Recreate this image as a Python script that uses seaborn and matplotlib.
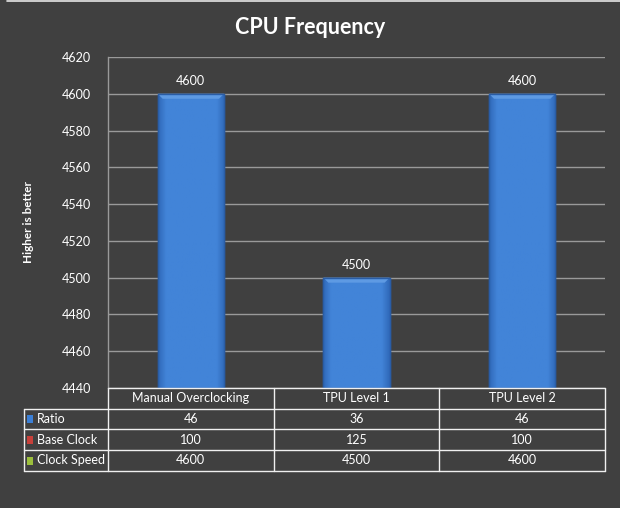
import matplotlib
matplotlib.use("Agg")
import matplotlib.pyplot as plt
import matplotlib.transforms as mtransforms
from matplotlib.lines import Line2D
from matplotlib.patches import Rectangle, Polygon
import numpy as np
import seaborn as sns
import pandas as pd

categories = ["Manual Overclocking", "TPU Level 1", "TPU Level 2"]
clock_speed = [4600, 4500, 4600]
ratio = [46, 36, 46]
base_clock = [100, 125, 100]
row_labels = ["Ratio", "Base Clock", "Clock Speed"]
row_colors = ["#3b7fd6", "#c8403a", "#9cbf3c"]
y_ticks = [4440, 4460, 4480, 4500, 4520, 4540, 4560, 4580, 4600, 4620]

BG = "#404040"
sns.set_theme(style="dark")
plt.rcParams["font.family"] = ["Lato", "DejaVu Sans"]

W, H = 620, 508
fig = plt.figure(figsize=(W / 100, H / 100), dpi=100, facecolor=BG)


def fx(px):
    return px / W


def fy(py):
    return 1 - py / H


ax = fig.add_axes([fx(108), fy(388), fx(605) - fx(108), fy(57) - fy(388)])
ax.set_facecolor(BG)

df = pd.DataFrame({"Config": categories, "Clock Speed": clock_speed})
sns.barplot(data=df, x="Config", y="Clock Speed", ax=ax, color="#3f80d5",
            width=0.4, edgecolor="#2a5da6", linewidth=1, saturation=1)
ax.bar_label(ax.containers[0], labels=[str(v) for v in clock_speed],
             padding=5, color="white", fontsize=9)

ax.set_ylim(y_ticks[0], y_ticks[-1])
ax.set_yticks(y_ticks)
ax.set_xticks([])
ax.set_xlabel("")
ax.set_ylabel("")
ax.yaxis.grid(True, color="#9a9a9a", lw=1)
ax.xaxis.grid(False)
ax.set_axisbelow(True)
for s in ["top", "right", "bottom"]:
    ax.spines[s].set_visible(False)
ax.spines["left"].set_color("#9a9a9a")
ax.spines["left"].set_linewidth(1)
ax.tick_params(axis="y", colors="#9a9a9a", labelcolor="white", length=4,
               width=1, direction="out", labelsize=9, pad=8)

# shading on bars (horizontal gradient + top bevel)
fig.canvas.draw()
ylo = ax.get_ylim()[0]
px_per_y = ax.bbox.height / (ax.get_ylim()[1] - ax.get_ylim()[0])
px_per_x = ax.bbox.width / (ax.get_xlim()[1] - ax.get_xlim()[0])
dark = np.array([0x2f, 0x68, 0xb8]) / 255
mid = np.array([0x42, 0x84, 0xd8]) / 255
t = np.linspace(0, 1, 120)
prof = np.clip(np.minimum(t, 1 - t) / 0.12, 0, 1)[:, None]
grad = (dark * (1 - prof) + mid * prof)[None, :, :]
for p in list(ax.patches):
    x0, w = p.get_x(), p.get_width()
    top = p.get_y() + p.get_height()
    im = ax.imshow(grad, extent=[x0, x0 + w, ylo, top], aspect="auto",
                   zorder=p.get_zorder() + 0.1, interpolation="bilinear")
    im.set_clip_path(p)
    bh = 5 / px_per_y
    bw = 5 / px_per_x
    bevel = Polygon([[x0, top], [x0 + w, top], [x0 + w - bw, top - bh], [x0 + bw, top - bh]],
                    closed=True, facecolor="#5e9ae3", edgecolor="none",
                    zorder=p.get_zorder() + 0.2)
    ax.add_patch(bevel)
    ax.add_patch(Rectangle((x0, ylo), w, top - ylo, facecolor="none",
                           edgecolor="#2a5da6", lw=1, zorder=p.get_zorder() + 0.3))
ax.set_xlim(-0.5, len(categories) - 0.5)
ax.set_ylim(y_ticks[0], y_ticks[-1])

fig.text(fx(310), fy(27), "CPU Frequency", fontsize=15.5, fontweight="bold",
         color="white", ha="center", va="center")
fig.text(fx(28), fy(222), "Higher is better", fontsize=8.5, fontweight="bold",
         color="white", ha="center", va="center", rotation=90)

# top light strip
fig.add_artist(Line2D([fx(7), fx(620)], [fy(0.5), fy(0.5)], color="#e6e6e6", lw=1.2))

# data table
blend = mtransforms.blended_transform_factory(ax.transData, fig.transFigure)
line_col = "#f0f0f0"
row_y = [388, 409, 429, 450, 471]
n = len(categories)
bounds = [i - 0.5 for i in range(n + 1)]

fig.add_artist(Line2D([fx(108), fx(605)], [fy(388), fy(388)], color=line_col, lw=1))
for yy in row_y[1:]:
    fig.add_artist(Line2D([fx(24), fx(605)], [fy(yy), fy(yy)], color=line_col, lw=1))
fig.add_artist(Line2D([fx(24), fx(24)], [fy(409), fy(471)], color=line_col, lw=1))
for b in bounds:
    fig.add_artist(Line2D([b, b], [fy(388), fy(471)], color=line_col, lw=1,
                          transform=blend))

for i, c in enumerate(categories):
    fig.text(i, fy((388 + 409) / 2), c, transform=blend, ha="center", va="center",
             color="white", fontsize=9)

table_rows = [ratio, base_clock, clock_speed]
for r, (lab, vals, col) in enumerate(zip(row_labels, table_rows, row_colors)):
    yc = (row_y[r + 1] + row_y[r + 2]) / 2
    fig.add_artist(Rectangle((fx(27), fy(yc + 4)), 6 / W, 8 / H, facecolor=col,
                             edgecolor="none", transform=fig.transFigure))
    fig.text(fx(37), fy(yc), lab, ha="left", va="center", color="white", fontsize=9)
    for i, v in enumerate(vals):
        fig.text(i, fy(yc), str(v), transform=blend, ha="center", va="center",
                 color="white", fontsize=9)

fig.savefig("out.png", dpi=100, facecolor=BG)
